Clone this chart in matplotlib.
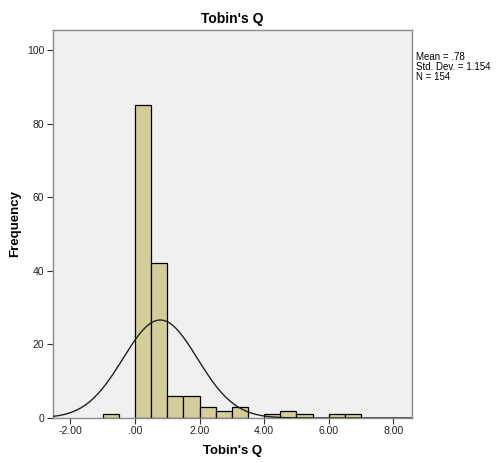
import numpy as np
import matplotlib.pyplot as plt

plt.rcParams['font.family'] = ['Liberation Sans', 'DejaVu Sans']

# histogram of Tobin's Q (bin width .5)
bin_edges = [-1.0, -0.5, 0.0, 0.5, 1.0, 1.5, 2.0, 2.5, 3.0, 3.5, 4.0, 4.5, 5.0, 5.5, 6.0, 6.5, 7.0]
counts = [1, 0, 85, 42, 6, 6, 3, 2, 3, 0, 1, 2, 1, 0, 1, 1]
mean_q = 0.78
sd_q = 1.154
n_q = 154
bin_w = 0.5

xticks = [-2, 0, 2, 4, 6, 8]
xtick_labels = ['-2.00', '.00', '2.00', '4.00', '6.00', '8.00']
yticks = [0, 20, 40, 60, 80, 100]

fig = plt.figure(figsize=(4.96, 4.63), dpi=100)
ax = fig.add_axes([0.1063, 0.0972, 0.7237, 0.8380])
ax.set_facecolor('#f0f0f0')

lefts = np.array(bin_edges[:-1])
for l, c in zip(lefts, counts):
    if c > 0:
        ax.bar(l, c, width=bin_w, align='edge', color='#d3ce97',
               edgecolor='black', linewidth=0.9, zorder=2)

# normal curve
xs = np.linspace(-2.55, 8.55, 400)
ys = n_q * bin_w / (sd_q * np.sqrt(2 * np.pi)) * np.exp(-0.5 * ((xs - mean_q) / sd_q) ** 2)
ax.plot(xs, ys, color='#222222', linewidth=1.0, zorder=3)

ax.set_xlim(-2.55, 8.57)
ax.set_ylim(0, 105.4)
ax.set_xticks(xticks)
ax.set_xticklabels(xtick_labels)
ax.set_yticks(yticks)
ax.tick_params(labelsize=7.5, length=4, width=0.8, color='#333333', labelcolor='#222222', pad=2)
for s in ax.spines.values():
    s.set_color('#8a8a8a')
    s.set_linewidth(1.0)

ax.set_title("Tobin's Q", fontsize=10, fontweight='bold', pad=5)
ax.set_xlabel("Tobin's Q", fontsize=9.5, fontweight='bold', labelpad=6)
ax.set_ylabel('Frequency', fontsize=9.5, fontweight='bold', labelpad=4)

fig.text(416 / 496, 1 - 52 / 463, 'Mean = .78\nStd. Dev. = 1.154\nN = 154',
         fontsize=7, va='top', ha='left', linespacing=1.0)

fig.savefig('out.png', dpi=100)
